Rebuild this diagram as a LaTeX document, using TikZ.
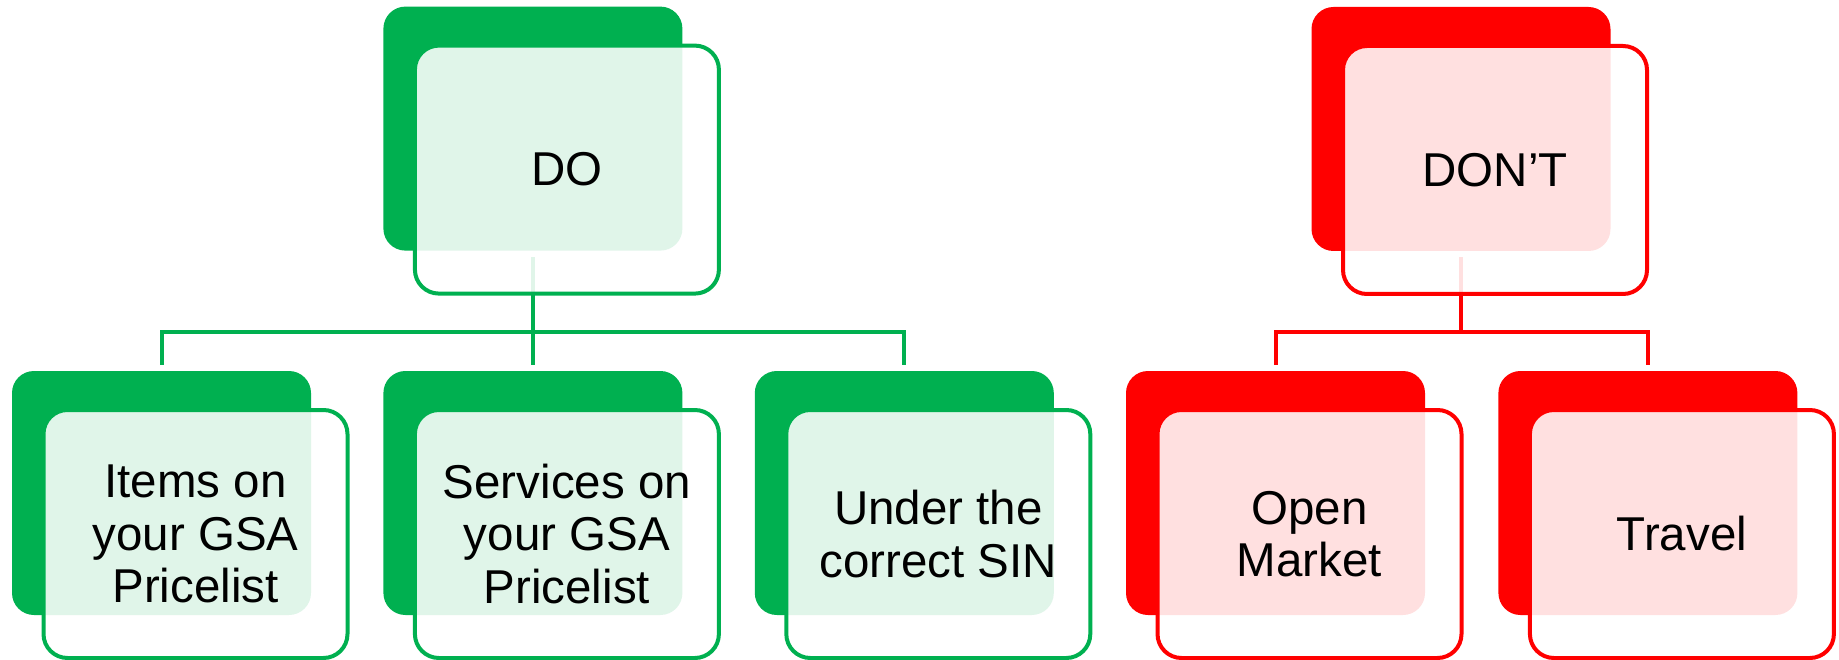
\documentclass[tikz,border=0pt]{standalone}
\usepackage{fontspec}
\setmainfont{Liberation Sans}
\usetikzlibrary{positioning,calc}
\definecolor{dogreen}{RGB}{0,176,80}
\definecolor{dontred}{RGB}{255,0,0}

\begin{document}
\begin{tikzpicture}[x=1pt,y=-1pt,
    node distance=72pt,
    backbox/.style={fill=#1,rounded corners=22pt,minimum width=299pt,minimum height=244pt,inner sep=0},
    backbox/.default=dogreen,
    frontbox/.style={draw=#1,line width=4pt,fill=white,fill opacity=0.88,draw opacity=1,text opacity=1,
                     rounded corners=24pt,minimum width=304pt,minimum height=248pt,inner sep=0,
                     align=center,font=\fontsize{47.5}{52.5}\selectfont},
    frontbox/.default=dogreen,
    conn/.style={draw=#1,line width=4pt},
    conn/.default=dogreen
    ]
    \useasboundingbox (0,0) rectangle (1839,660);
    %%% Achterste vlakken
    \node[backbox] (itemsbk) at (161.5,493) {};
    \node[backbox,right=of itemsbk] (servicesbk) {};
    \node[backbox,right=of servicesbk] (underbk) {};
    \node[backbox,above=120pt of servicesbk] (dobk) {};
    \node[backbox=dontred] (openbk) at (1275.5,493) {};
    \node[backbox=dontred,right=73pt of openbk] (travelbk) {};
    \node[backbox=dontred] (dontbk) at (1461,129) {};
    %%% Verbindingen
    \coordinate (bus) at (0,332);
    \draw[conn,shorten <=6pt,shorten >=6pt] (dobk.south) -- (servicesbk.north);
    \draw[conn,shorten <=-2pt,shorten >=6pt] (itemsbk.north |- bus) -- (itemsbk.north);
    \draw[conn,shorten <=-2pt,shorten >=6pt] (underbk.north |- bus) -- (underbk.north);
    \draw[conn] (itemsbk.north |- bus) -- (underbk.north |- bus);
    \draw[conn=dontred,shorten <=6pt] (dontbk.south) -- (dontbk.south |- bus);
    \draw[conn=dontred,shorten <=-2pt,shorten >=6pt] (openbk.north |- bus) -- (openbk.north);
    \draw[conn=dontred,shorten <=-2pt,shorten >=6pt] (travelbk.north |- bus) -- (travelbk.north);
    \draw[conn=dontred] (openbk.north |- bus) -- (travelbk.north |- bus);
    %%% Voorste vlakken met tekst
    \node[frontbox] (do) at ([shift={(34,41)}]dobk) {DO};
    \node[frontbox] (items) at ([shift={(34,41)}]itemsbk) {Items on\\your GSA\\Pricelist};
    \node[frontbox] (services) at ([shift={(34,41)}]servicesbk) {Services on\\your GSA\\Pricelist};
    \node[frontbox] (under) at ([shift={(34,41)}]underbk) {Under the\\correct SIN};
    \node[frontbox=dontred] (dont) at ([shift={(34,41)}]dontbk) {DON’T};
    \node[frontbox=dontred] (open) at ([shift={(34,41)}]openbk) {Open\\Market};
    \node[frontbox=dontred] (travel) at ([shift={(34,41)}]travelbk) {Travel};
\end{tikzpicture}
\end{document}
